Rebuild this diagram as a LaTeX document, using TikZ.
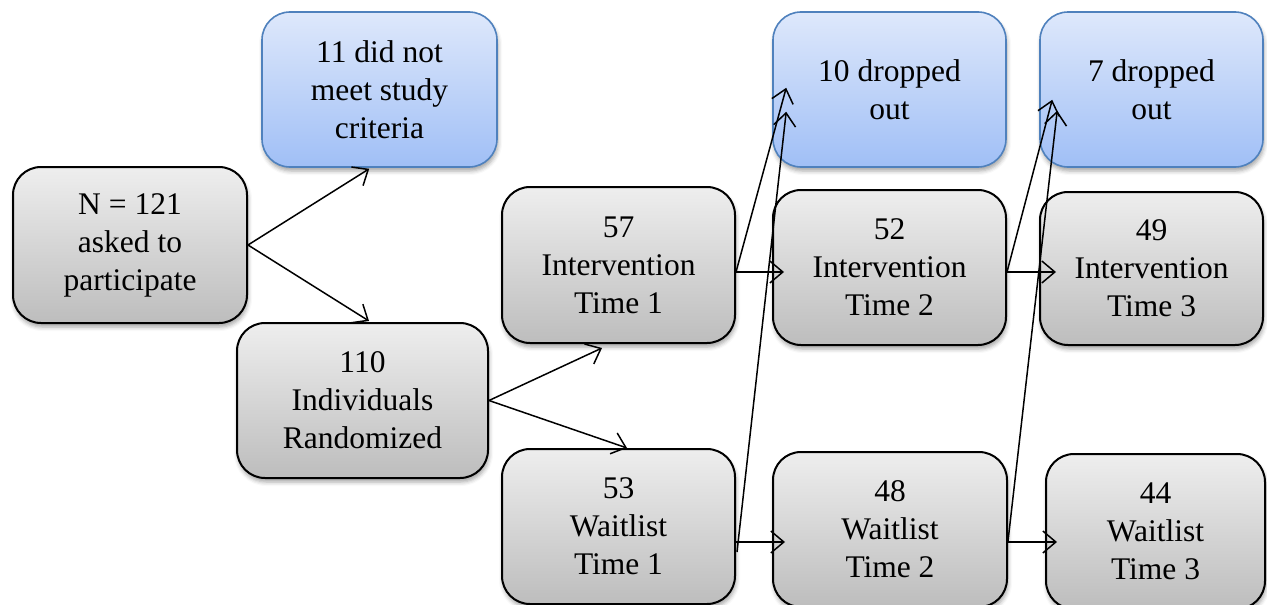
\documentclass[tikz,border=0pt]{standalone}
\usepackage{fontspec}
\setmainfont{Liberation Serif}
\usetikzlibrary{arrows.meta,calc,shadows.blur}

\definecolor{grayTop}{HTML}{EEEEEE}
\definecolor{grayBot}{HTML}{BDBDBD}
\definecolor{blueTop}{HTML}{DEE8FB}
\definecolor{blueBot}{HTML}{A0BFF6}
\definecolor{blueEdge}{HTML}{4F81BD}

\tikzset{
  card/.style={rounded corners=28pt, inner sep=0pt, align=center,
    font=\fontsize{31.5}{38}\selectfont,
    blur shadow={shadow xshift=1pt, shadow yshift=-4pt,
      shadow blur radius=4pt, shadow opacity=35}},
  graybox/.style={card, draw=black, line width=2pt,
    top color=grayTop, bottom color=grayBot},
  bluebox/.style={card, draw=blueEdge, line width=1.6pt,
    top color=blueTop, bottom color=blueBot},
  flow/.style={draw=black, line width=1.5pt,
    -{Straight Barb[length=13pt,width=22pt]}}
}

\begin{document}
\begin{tikzpicture}[x=1pt,y=-1pt]
\useasboundingbox (0,0) rectangle (1267,605);

% boxes
\node[graybox, minimum width=234pt, minimum height=156pt] (A) at (130,245)
  {N = 121\\asked to\\participate};
\node[bluebox, minimum width=235pt, minimum height=155pt] (B) at (379.5,89.5)
  {11 did not\\meet study\\criteria};
\node[graybox, minimum width=251pt, minimum height=155pt] (C) at (362.5,400.5)
  {110\\Individuals\\Randomized};
\node[graybox, minimum width=233pt, minimum height=156pt] (D) at (618.5,265)
  {57\\Intervention\\Time 1};
\node[graybox, minimum width=233pt, minimum height=155pt] (W1) at (618.5,526.5)
  {53\\Waitlist\\Time 1};
\node[bluebox, minimum width=233pt, minimum height=155pt] (G) at (889.5,89.5)
  {10 dropped\\out};
\node[graybox, minimum width=233pt, minimum height=155pt] (E) at (889.5,267.5)
  {52\\Intervention\\Time 2};
\node[graybox, minimum width=234pt, minimum height=155pt] (W2) at (890,529.5)
  {48\\Waitlist\\Time 2};
\node[bluebox, minimum width=223pt, minimum height=155pt] (H) at (1151.5,89.5)
  {7 dropped\\out};
\node[graybox, minimum width=223pt, minimum height=153pt] (F) at (1151.5,268.5)
  {49\\Intervention\\Time 3};
\node[graybox, minimum width=219pt, minimum height=155pt] (W3) at (1155.5,531.5)
  {44\\Waitlist\\Time 3};

% connectors
\draw[flow] (A.east) -- ($(B.south west)+(108,1)$);
\draw[flow] (A.east) -- ($(C.north west)+(133,-1)$);
\draw[flow] (C.east) -- ($(D.south west)+(101,4)$);
\draw[flow] (C.east) -- ($(W1.north west)+(126,0)$);

\draw[flow] ($(D.east)+(0,7)$) -- ($(E.west)+(12,4.5)$);
\draw[flow] ($(D.east)+(0,7)$) -- ($(G.south west)+(14,-80)$);
\draw[flow] ($(W1.east)+(1,25.5)$) -- ($(G.south west)+(14,-56)$);
\draw[flow] ($(W1.east)+(0,15.5)$) -- ($(W2.west)+(13,12.5)$);

\draw[flow] ($(E.east)+(0,4.5)$) -- ($(F.west)+(17,3.5)$);
\draw[flow] ($(E.east)+(0,4.5)$) -- ($(H.south west)+(13,-68)$);
\draw[flow] ($(W2.east)+(0,11.5)$) -- ($(H.south west)+(18,-57)$);
\draw[flow] ($(W2.east)+(0,12.5)$) -- ($(W3.west)+(12,10.5)$);
\end{tikzpicture}
\end{document}
